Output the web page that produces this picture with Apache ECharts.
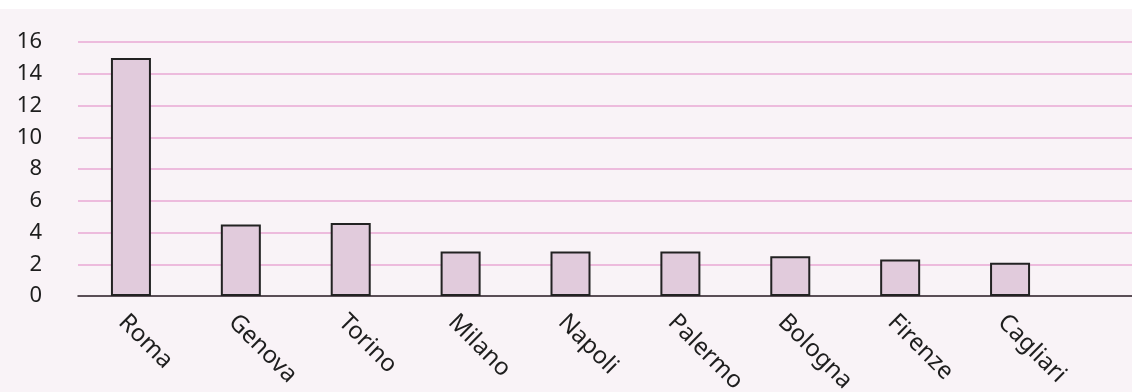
<!DOCTYPE html>
<html>
<head>
<meta charset="utf-8">
<script src="https://cdn.jsdelivr.net/npm/echarts@6/dist/echarts.min.js"></script>
<style>
  html, body { margin: 0; padding: 0; }
  body { background: linear-gradient(#ffffff 0px, #ffffff 9px, #f9f3f7 9px, #f9f3f7 100%); }
  #chart { width: 1132px; height: 392px; }
</style>
</head>
<body>
<div id="chart"></div>
<script>
const categories = ['Roma', 'Genova', 'Torino', 'Milano', 'Napoli', 'Palermo', 'Bologna', 'Firenze', 'Cagliari'];
const values = [15, 4.5, 4.6, 2.8, 2.8, 2.8, 2.5, 2.3, 2.1];
const yMin = 0, yMax = 16, yStep = 2;

const font = 'Noto Sans';
const chart = echarts.init(document.getElementById('chart'), null, { renderer: 'canvas' });
chart.setOption({
  backgroundColor: 'transparent',
  animation: false,
  grid: [
    { left: 76, right: 67, top: 42, bottom: 96, containLabel: false, outerBoundsMode: 'none' },
    { left: 78, right: 0, top: 42, bottom: 96, containLabel: false, outerBoundsMode: 'none' }
  ],
  xAxis: [
    {
      gridIndex: 0, type: 'category', data: categories,
      axisLine: { show: false }, axisTick: { show: false },
      axisLabel: {
        rotate: -45, align: 'left', verticalAlign: 'top', margin: 14,
        color: '#1e1e1e', fontSize: 24, fontFamily: font, interval: 0
      }
    },
    {
      gridIndex: 1, type: 'value', min: 0, max: 1,
      axisLine: { show: true, lineStyle: { color: '#2a2a2a', width: 1.5 } },
      axisTick: { show: false }, axisLabel: { show: false }, splitLine: { show: false }
    }
  ],
  yAxis: [
    {
      gridIndex: 0, type: 'value', min: yMin, max: yMax, interval: yStep,
      axisLine: { show: false }, axisTick: { show: false },
      axisLabel: { show: false }, splitLine: { show: false }
    },
    {
      gridIndex: 1, type: 'value', min: yMin, max: yMax, interval: yStep,
      axisLine: { show: false }, axisTick: { show: false },
      axisLabel: { color: '#1e1e1e', fontSize: 22, fontFamily: font, margin: 36 },
      splitLine: { show: true, lineStyle: { color: '#e9a8d4', width: 1.5 } }
    }
  ],
  series: [{
    type: 'bar', xAxisIndex: 0, yAxisIndex: 0,
    data: values, barWidth: 40,
    itemStyle: { color: '#e1cbdc', borderColor: '#222', borderWidth: 2 }
  }]
});
</script>
</body>
</html>
